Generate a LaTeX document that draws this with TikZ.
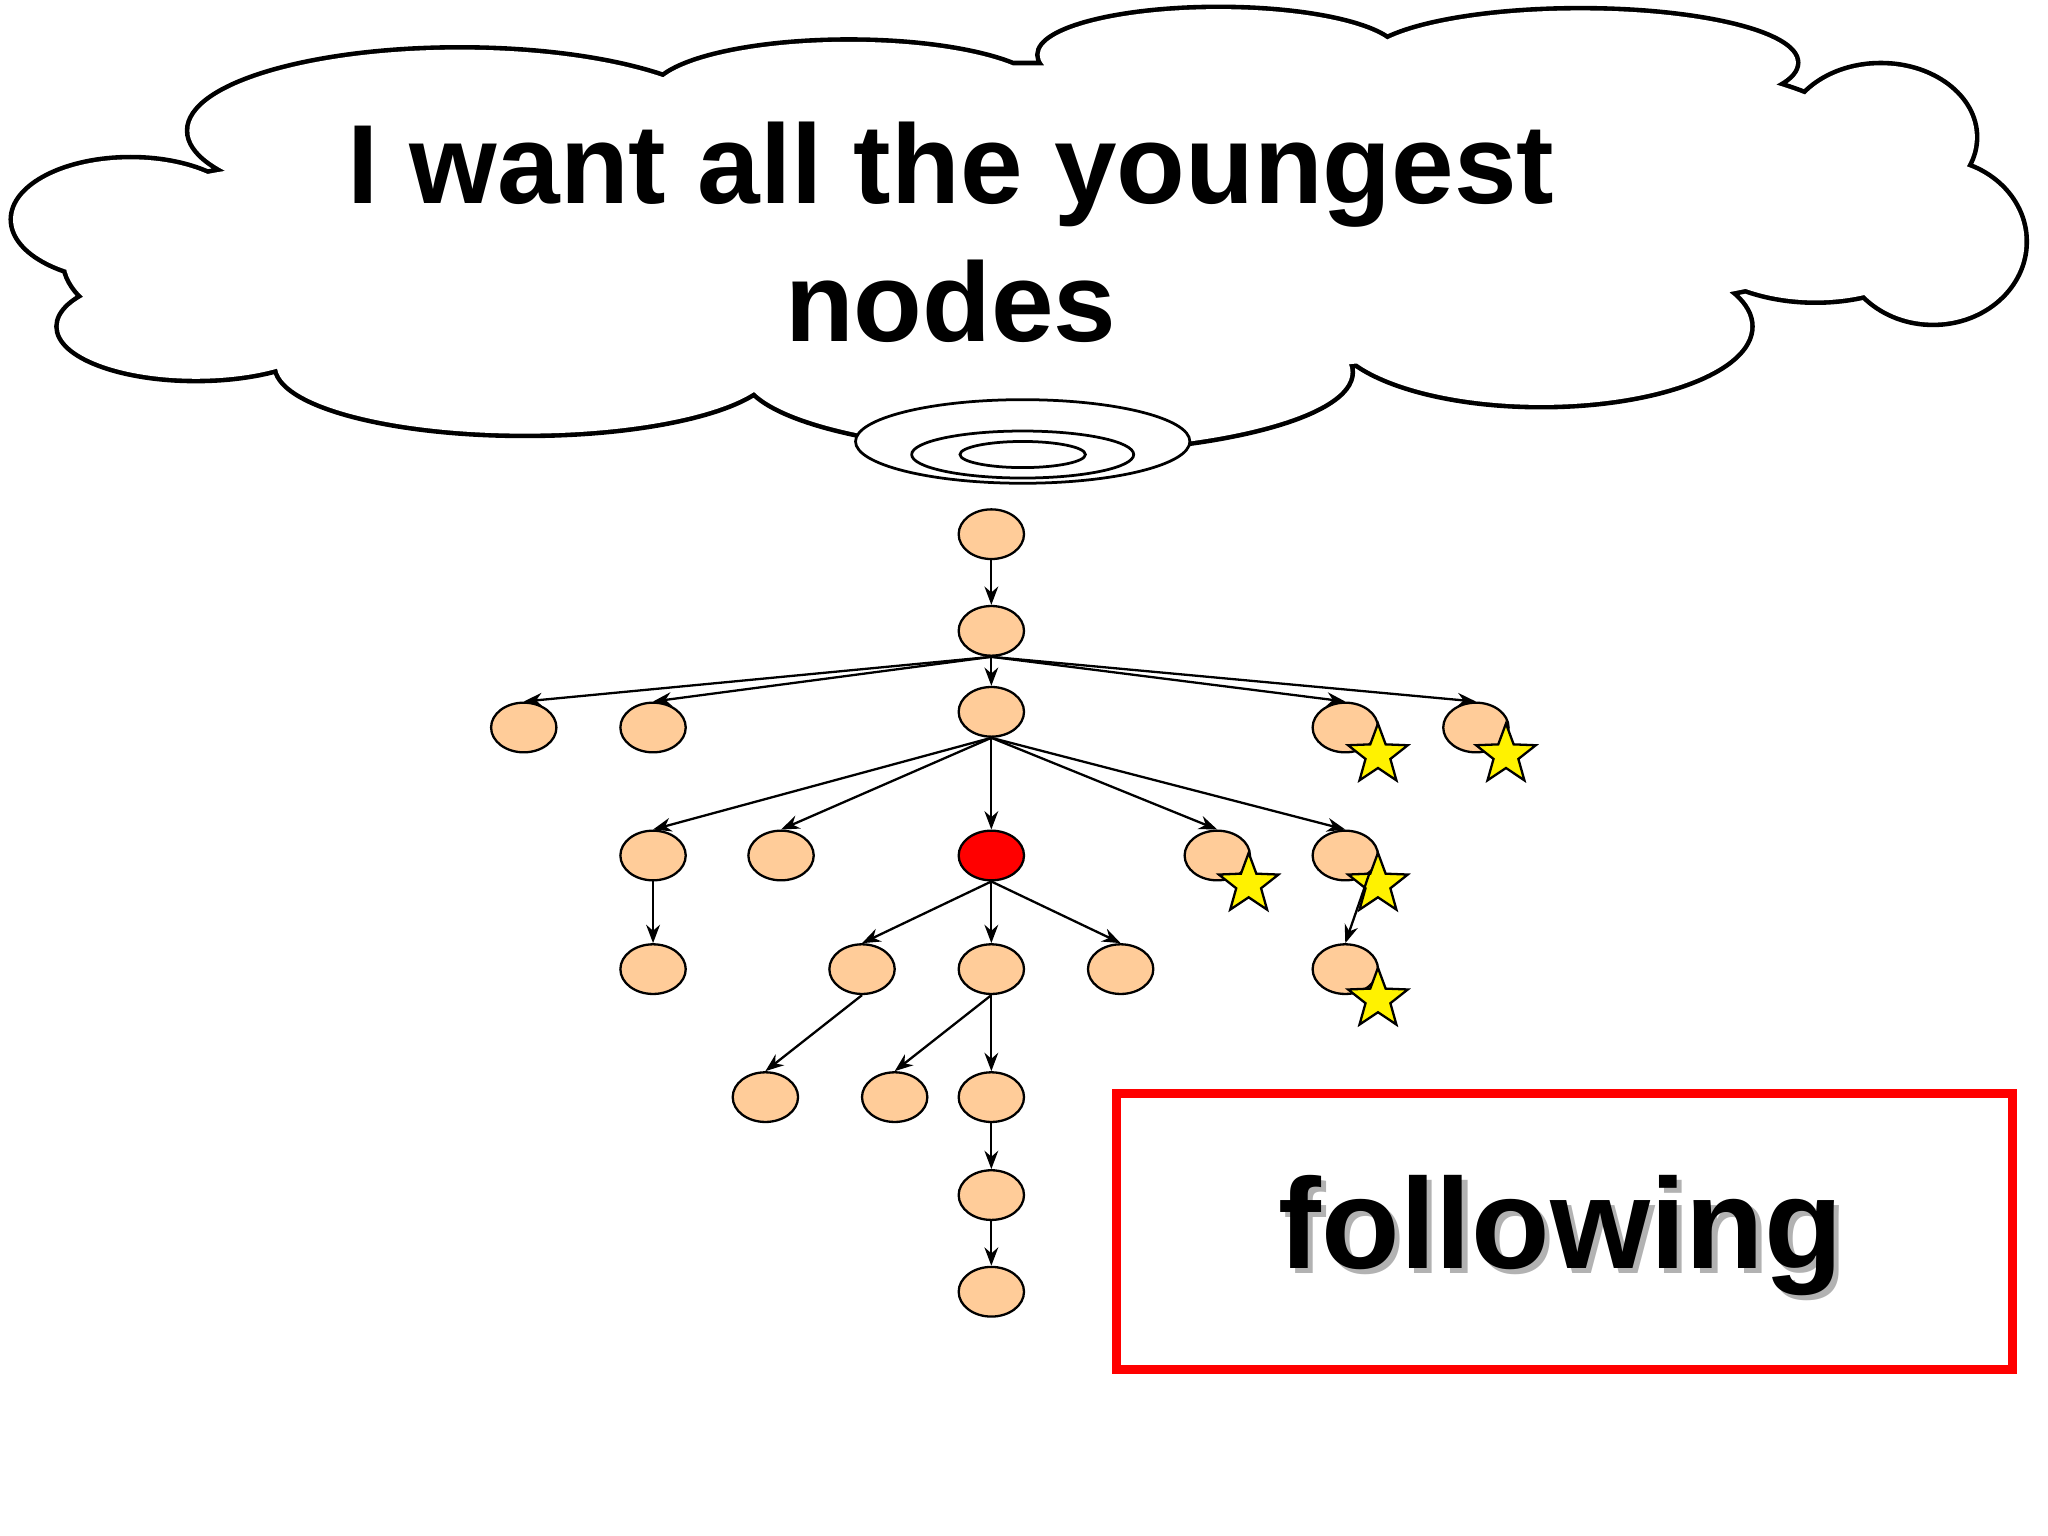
\documentclass[tikz,border=0pt]{standalone}
\usepackage{fontspec}
\setmainfont{Liberation Sans}
\usetikzlibrary{shapes.geometric,arrows.meta}
\begin{document}
\begin{tikzpicture}[x=0.01cm,y=-0.01cm,
  tn/.style={draw,ellipse,fill=orange!40!white,minimum width=0.5cm,minimum height=0.38cm,inner sep=0pt,line width=0.5pt},
  rn/.style={tn,fill=red},
  ar/.style={-{Stealth[length=4pt,width=3pt]},line width=0.5pt},
  stargly/.style={draw,star,star points=5,star point ratio=2.4,fill=yellow,minimum size=0.48cm,inner sep=0pt,line width=0.5pt}]
\useasboundingbox (0,0) rectangle (1568,1176);
% cloud
\def\cloudparts{
  (150,250) ellipse [x radius=105,y radius=40]
  (100,168) ellipse [x radius=90,y radius=46]
  (352,100) ellipse [x radius=207,y radius=62]
  (650,72) ellipse [x radius=150,y radius=40]
  (933,42) ellipse [x radius=137,y radius=35]
  (1210,48) ellipse [x radius=165,y radius=40]
  (1440,105) ellipse [x radius=72,y radius=55]
  (1480,185) ellipse [x radius=70,y radius=62]
  (1180,250) ellipse [x radius=160,y radius=60]
  (802,285) ellipse [x radius=232,y radius=60]
  (402,280) ellipse [x radius=190,y radius=52]
  (780,170) ellipse [x radius=600,y radius=120]
  (1250,140) ellipse [x radius=200,y radius=90]
  (1390,160) ellipse [x radius=110,y radius=70]
  (250,200) ellipse [x radius=200,y radius=75]
  (1080,110) ellipse [x radius=250,y radius=80]}
\draw[line width=2pt] \cloudparts;
\fill[white] \cloudparts;
\draw[fill=white,line width=0.6pt] (783,338) ellipse [x radius=128,y radius=32];
\draw[fill=white,line width=0.6pt] (783,348) ellipse [x radius=85,y radius=18];
\draw[fill=white,line width=0.6pt] (783,348) ellipse [x radius=48,y radius=10];
\node[align=center,font=\bfseries\fontsize{24.5}{30}\selectfont] (title) at (728,178) {I want all the youngest\\nodes};
% tree
\node[tn] (r) at (759,409) {};
\node[tn] (n2) at (759,483) {};
\node[tn] (a1) at (401,557) {};
\node[tn] (a2) at (500,557) {};
\node[tn] (a3) at (759,545) {};
\node[tn] (a4) at (1030,557) {};
\node[tn] (a5) at (1130,557) {};
\node[tn] (b1) at (500,655) {};
\node[tn] (b2) at (598,655) {};
\node[rn] (b3) at (759,655) {};
\node[tn] (b4) at (932,655) {};
\node[tn] (b5) at (1030,655) {};
\node[tn] (c1) at (500,742) {};
\node[tn] (c2) at (660,742) {};
\node[tn] (c3) at (759,742) {};
\node[tn] (c4) at (858,742) {};
\node[tn] (c5) at (1030,742) {};
\node[tn] (d1) at (586,840) {};
\node[tn] (d2) at (685,840) {};
\node[tn] (d3) at (759,840) {};
\node[tn] (e1) at (759,915) {};
\node[tn] (e2) at (759,989) {};
\draw[ar] (r) -- (n2);
\foreach \t in {a1,a2,a4,a5} \draw[ar] (n2.south) -- (\t.north);
\draw[ar] (n2) -- (a3);
\foreach \t in {b1,b2,b3,b4,b5} \draw[ar] (a3.south) -- (\t.north);
\draw[ar] (b1) -- (c1);
\foreach \t in {c2,c3,c4} \draw[ar] (b3.south) -- (\t.north);
\draw[ar] (c2.south) -- (d1.north);
\draw[ar] (c3.south) -- (d2.north);
\draw[ar] (c3) -- (d3);
\draw[ar] (d3) -- (e1);
\draw[ar] (e1) -- (e2);
\node[stargly] (s1) at (1055,578) {};
\node[stargly] (s2) at (1153,578) {};
\node[stargly] (s3) at (956,677) {};
\node[stargly] (s4) at (1055,677) {};
\draw[ar] (b5.south east) -- (c5.north);
\node[stargly] (s5) at (1055,765) {};
% box
\node[draw=red,line width=2pt,minimum width=6.86cm,minimum height=2.11cm,anchor=north west] (box) at (851,834) {};
\node[font=\bfseries\fontsize{28}{34}\selectfont,text=black!30] (fsh) at (1199,950) {following};
\node[font=\bfseries\fontsize{28}{34}\selectfont] (f) at (1195,946) {following};
\end{tikzpicture}
\end{document}
